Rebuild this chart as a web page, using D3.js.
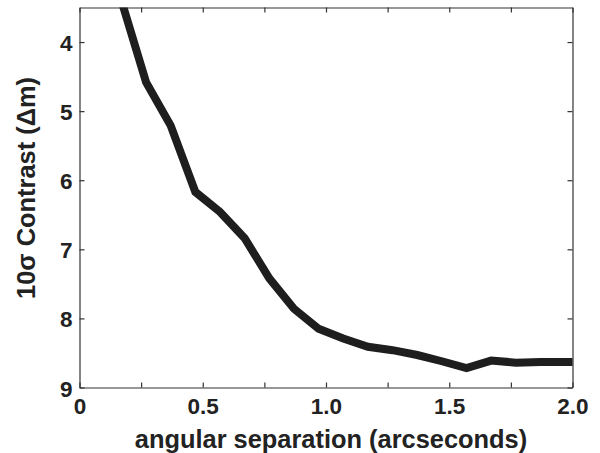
<!DOCTYPE html>
<html>
<head>
<meta charset="utf-8">
<script src="https://cdn.jsdelivr.net/npm/d3@7"></script>
<style>
  body { margin: 0; background: #fff; }
  text { font-family: "Liberation Sans", Arial, sans-serif; font-weight: bold; fill: #222; }
</style>
</head>
<body>
<div id="chart"></div>
<script>
// contrast curve
const separation = [0.17, 0.27, 0.37, 0.47, 0.57, 0.67, 0.77, 0.87, 0.97, 1.07, 1.17, 1.27, 1.37, 1.47, 1.57, 1.67, 1.77, 1.87, 1.97, 2.07];
const contrast   = [3.40, 4.58, 5.21, 6.17, 6.46, 6.84, 7.42, 7.86, 8.15, 8.29, 8.41, 8.46, 8.53, 8.62, 8.72, 8.61, 8.64, 8.63, 8.63, 8.63];

const xTicks = [0, 0.25, 0.5, 0.75, 1.0, 1.25, 1.5, 1.75, 2.0];
const xTickLabels = ["0", "", "0.5", "", "1.0", "", "1.5", "", "2.0"];
const yTicks = [4, 5, 6, 7, 8, 9];

const width = 600, height = 453;
const margin = {top: 7.5, right: 27.5, bottom: 65.5, left: 79.5};
const w = width - margin.left - margin.right;
const h = height - margin.top - margin.bottom;

const svg = d3.select("#chart").append("svg")
  .attr("width", width)
  .attr("height", height);

const g = svg.append("g")
  .attr("transform", `translate(${margin.left},${margin.top})`);

const x = d3.scaleLinear().domain([0, 2]).range([0, w]);
const y = d3.scaleLinear().domain([3.5, 9]).range([0, h]);

g.append("clipPath").attr("id", "clip")
  .append("rect").attr("width", w).attr("height", h);

// axes, ticks pointing inward
const tl = 5;
const axBottom = g.append("g").attr("transform", `translate(0,${h})`)
  .call(d3.axisBottom(x).tickValues(xTicks).tickSizeInner(-tl).tickSizeOuter(0)
    .tickPadding(11).tickFormat((d, i) => xTickLabels[i]));
const axTop = g.append("g")
  .call(d3.axisTop(x).tickValues(xTicks).tickSizeInner(-tl).tickSizeOuter(0).tickFormat(""));
const axLeft = g.append("g")
  .call(d3.axisLeft(y).tickValues(yTicks).tickSizeInner(-tl).tickSizeOuter(0)
    .tickPadding(7).tickFormat(d3.format("d")));
const axRight = g.append("g").attr("transform", `translate(${w},0)`)
  .call(d3.axisRight(y).tickValues(yTicks).tickSizeInner(-tl).tickSizeOuter(0).tickFormat(""));

[axBottom, axTop, axLeft, axRight].forEach(a => {
  a.selectAll("path, line").attr("stroke", "#333").attr("stroke-width", 1.2);
  a.selectAll("text").style("font-size", "22.5px").attr("fill", "#222");
});
axLeft.selectAll("text").attr("dy", "0.38em");

// curve
const line = d3.line()
  .x((d, i) => x(separation[i]))
  .y(d => y(d));

g.append("path")
  .datum(contrast)
  .attr("clip-path", "url(#clip)")
  .attr("fill", "none")
  .attr("stroke", "#1e1e1e")
  .attr("stroke-width", 8)
  .attr("stroke-linejoin", "miter")
  .attr("d", line);

// axis titles
svg.append("text")
  .attr("x", 331)
  .attr("y", 448)
  .attr("text-anchor", "middle")
  .style("font-size", "25.4px")
  .text("angular separation (arcseconds)");

svg.append("text")
  .attr("transform", "translate(35,188) rotate(-90)")
  .attr("text-anchor", "middle")
  .style("font-size", "25.4px")
  .text("10σ Contrast (Δm)");
</script>
</body>
</html>
